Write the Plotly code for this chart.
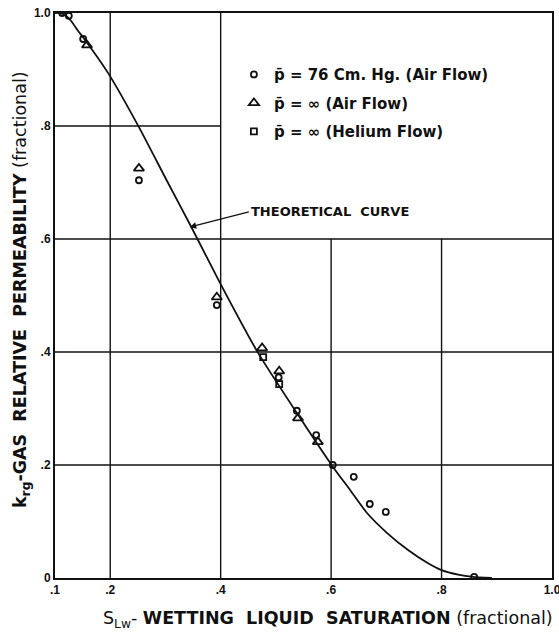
import plotly.graph_objects as go

# Theoretical gas relative permeability curve
curve_x = [0.100, 0.108, 0.118, 0.130, 0.142, 0.150, 0.196, 0.252, 0.300, 0.348,
           0.399, 0.468, 0.544, 0.603, 0.635, 0.665, 0.701, 0.740, 0.774, 0.800,
           0.830, 0.857, 0.891]
curve_y = [1.000, 1.000, 0.997, 0.985, 0.968, 0.958, 0.894, 0.798, 0.708, 0.619,
           0.522, 0.398, 0.283, 0.197, 0.155, 0.115, 0.080, 0.049, 0.027, 0.014,
           0.006, 0.002, 0.000]

# Measured points: mean pressure 76 cm Hg, air flow
air76_x = [0.113, 0.125, 0.151, 0.252, 0.393, 0.505, 0.538, 0.573, 0.603, 0.641, 0.670, 0.699, 0.859]
air76_y = [1.000, 0.995, 0.954, 0.704, 0.483, 0.355, 0.296, 0.253, 0.200, 0.179, 0.131, 0.117, 0.002]

# Extrapolated to infinite mean pressure, air flow
airinf_x = [0.158, 0.252, 0.393, 0.475, 0.506, 0.540, 0.576]
airinf_y = [0.943, 0.725, 0.497, 0.407, 0.366, 0.283, 0.241]

# Extrapolated to infinite mean pressure, helium flow
heinf_x = [0.477, 0.506]
heinf_y = [0.391, 0.343]

x_ticks = [0.1, 0.2, 0.4, 0.6, 0.8, 1.0]
x_tick_text = [".1", ".2", ".4", ".6", ".8", "1.0"]
y_ticks = [0.0, 0.2, 0.4, 0.6, 0.8, 1.0]
y_tick_text = ["0", ".2", ".4", ".6", ".8", "1.0"]

FONT = "DejaVu Sans"
TICK_FONT = "Liberation Sans Narrow, Liberation Sans, Arial"
INK = "#111111"
SP = "\u00a0\u00a0"

fig = go.Figure()

fig.add_trace(go.Scatter(
    x=curve_x, y=curve_y, mode="lines",
    line=dict(color=INK, width=1.8, shape="spline", smoothing=0.5),
    showlegend=False, hoverinfo="skip",
))

fig.add_trace(go.Scatter(
    x=air76_x, y=air76_y, mode="markers",
    name="p\u0304 = 76 Cm. Hg. (Air Flow)", legendgroup="a",
    marker=dict(symbol="circle-open", size=6, color=INK, line=dict(width=1.8, color=INK)),
))
fig.add_trace(go.Scatter(
    x=airinf_x, y=airinf_y, mode="markers",
    name="p\u0304 = \u221e (Air Flow)", legendgroup="b",
    marker=dict(symbol="triangle-up-open", size=9, color=INK, line=dict(width=1.8, color=INK)),
))
fig.add_trace(go.Scatter(
    x=heinf_x, y=heinf_y, mode="markers",
    name="p\u0304 = \u221e (Helium Flow)", legendgroup="c",
    marker=dict(symbol="square-open", size=6, color=INK, line=dict(width=1.8, color=INK)),
))

# Grid: the upper-right block (x > .4, y > .6) is left open for the key
shapes = []
for yv in y_ticks[1:-1]:
    x_end = 0.4 if yv > 0.6 else 1.0
    shapes.append(dict(type="line", xref="x", yref="y", x0=0.1, x1=x_end, y0=yv, y1=yv,
                       line=dict(color=INK, width=1.4), layer="below"))
for xv in x_ticks[1:-1]:
    y_end = 0.6 if xv > 0.4 else 1.0
    shapes.append(dict(type="line", xref="x", yref="y", x0=xv, x1=xv, y0=0.0, y1=y_end,
                       line=dict(color=INK, width=1.4), layer="below"))

fig.update_layout(
    width=559, height=634,
    margin=dict(l=55, r=7, t=13, b=56, autoexpand=False),
    paper_bgcolor="white", plot_bgcolor="white",
    font=dict(family=FONT, color=INK),
    shapes=shapes,
    xaxis=dict(
        range=[0.1, 1.0], tickvals=x_ticks, ticktext=x_tick_text,
        showgrid=False, zeroline=False, showline=True, mirror=True,
        linecolor=INK, linewidth=2, ticks="", ticklen=0,
        automargin=False, ticklabeloverflow="allow",
        tickfont=dict(family=TICK_FONT, size=12, weight="bold", color=INK),
    ),
    yaxis=dict(
        range=[0.0, 1.0], tickvals=y_ticks, ticktext=y_tick_text,
        showgrid=False, zeroline=False, showline=True, mirror=True,
        linecolor=INK, linewidth=2, ticks="", ticklen=0,
        automargin=False, ticklabeloverflow="allow",
        tickfont=dict(family=TICK_FONT, size=12, weight="bold", color=INK),
    ),
    legend=dict(
        x=0.36, y=0.92, xanchor="left", yanchor="top",
        bgcolor="rgba(0,0,0,0)", borderwidth=0,
        traceorder="grouped", tracegroupgap=6,
        font=dict(family=FONT, size=15, weight="bold", color=INK),
    ),
    annotations=[
        dict(
            text="THEORETICAL" + SP + "CURVE", x=0.344, y=0.621, xref="x", yref="y",
            ax=0.451, ay=0.648, axref="x", ayref="y",
            xanchor="left", yanchor="middle",
            showarrow=True, arrowhead=2, arrowsize=1, arrowwidth=1.3, arrowcolor=INK,
            font=dict(family=FONT, size=13, weight="bold", color=INK),
        ),
        dict(
            text="S<sub>Lw</sub>- <b>WETTING" + SP + "LIQUID" + SP + "SATURATION</b> (fractional)",
            x=0.549, y=-0.074, xref="paper", yref="paper",
            xanchor="center", yanchor="middle", showarrow=False,
            font=dict(family=FONT, size=17.5, color=INK),
        ),
        dict(
            text="<b>k<sub>rg</sub>-GAS" + SP + "RELATIVE" + SP + "PERMEABILITY</b> (fractional)",
            x=-0.066, y=0.51, xref="paper", yref="paper", textangle=-90,
            xanchor="center", yanchor="middle", showarrow=False,
            font=dict(family=FONT, size=17.5, color=INK),
        ),
    ],
)

fig.write_html("out.html")
